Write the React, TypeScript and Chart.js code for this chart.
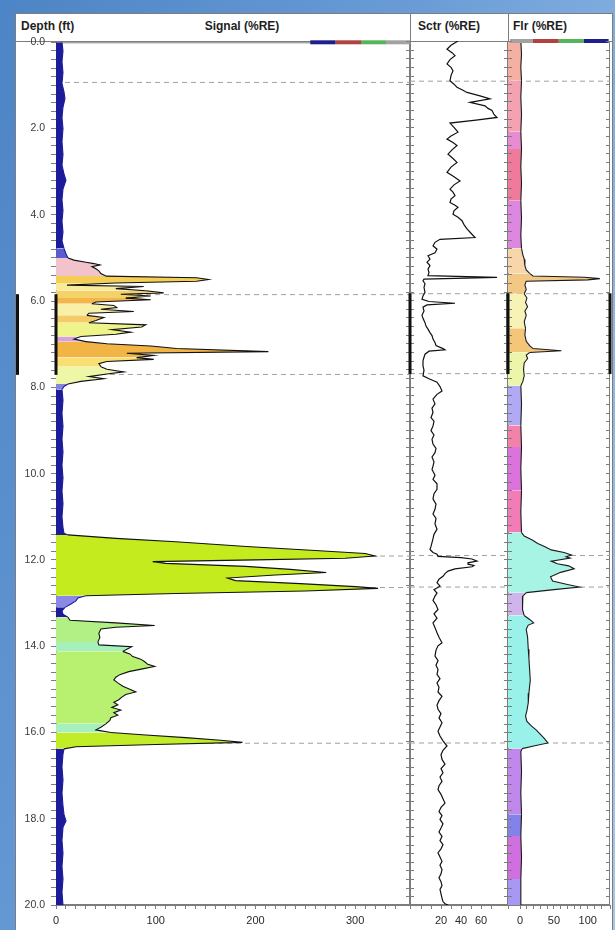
import React, { useEffect, useRef } from 'react';
import { Chart, registerables } from 'chart.js';

Chart.register(...registerables);

const FONT = '"Liberation Sans", Arial, Helvetica, sans-serif';
const FRAME = '#7d7d7d';
const TEXT = '#2a2a2a';
Chart.defaults.font.family = FONT;

// ---------------- depth axis ----------------
const depthMin = 0;
const depthMax = 20;
const depthStep = 0.2;
const depthLabelEvery = 2;

// marker (dashed) depths and highlighted zone
const markerDepths = [0.93, 5.85, 7.7, 11.91, 12.64, 16.25];
const zoneTops = [5.84];
const zoneBottoms = [7.71];

// ---------------- Signal (%RE) ----------------
const signalDepth = [
  0.00, 0.20, 0.45, 0.70, 0.95, 1.15, 1.30, 1.50, 1.75, 2.00,
  2.30, 2.60, 2.85, 3.05, 3.20, 3.40, 3.65, 3.90, 4.15, 4.40,
  4.60, 4.78, 4.90, 5.00, 5.05, 5.10, 5.13, 5.16, 5.20, 5.25,
  5.30, 5.36, 5.42, 5.46, 5.50, 5.54, 5.58, 5.63, 5.66, 5.71,
  5.76, 5.81, 5.84, 5.88, 5.93, 5.97, 6.02, 6.06, 6.10, 6.15,
  6.19, 6.24, 6.28, 6.33, 6.38, 6.45, 6.50, 6.55, 6.60, 6.66,
  6.72, 6.77, 6.82, 6.88, 6.94, 6.99, 7.04, 7.10, 7.17, 7.21,
  7.26, 7.31, 7.35, 7.40, 7.45, 7.52, 7.58, 7.64, 7.69, 7.75,
  7.80, 7.86, 7.92, 7.98, 8.05, 8.30, 8.60, 8.90, 9.20, 9.50,
  9.80, 10.10, 10.40, 10.70, 11.00, 11.25, 11.38, 11.42, 11.50, 11.58,
  11.69, 11.78, 11.85, 11.91, 11.96, 12.00, 12.04, 12.08, 12.15, 12.22,
  12.29, 12.35, 12.42, 12.48, 12.55, 12.62, 12.66, 12.72, 12.78, 12.83,
  12.88, 12.95, 13.02, 13.10, 13.18, 13.26, 13.33, 13.40, 13.46, 13.52,
  13.56, 13.60, 13.70, 13.80, 13.90, 13.97, 14.01, 14.06, 14.12, 14.18,
  14.24, 14.30, 14.36, 14.42, 14.47, 14.52, 14.59, 14.66, 14.72, 14.78,
  14.85, 14.93, 15.00, 15.06, 15.12, 15.18, 15.24, 15.30, 15.36, 15.42,
  15.48, 15.54, 15.60, 15.66, 15.72, 15.80, 15.88, 15.94, 16.00, 16.06,
  16.12, 16.18, 16.23, 16.28, 16.33, 16.38, 16.50, 16.80, 17.10, 17.40,
  17.70, 17.90, 18.05, 18.20, 18.50, 18.80, 19.10, 19.40, 19.70, 20.00,
];
const signalValue = [
  6, 7, 6, 7, 6, 8, 9, 7, 6, 7,
  6, 7, 6, 8, 10, 7, 6, 7, 6, 7,
  6, 8, 10, 12, 18, 30, 38, 44, 36, 40,
  43, 45, 50, 141, 153, 141, 60, 11, 88, 60,
  90, 108, 65, 95, 70, 95, 40, 36, 58, 61,
  45, 78, 33, 31, 48, 40, 33, 90, 86, 56,
  75, 60, 25, 18, 30, 51, 95, 121, 213, 71,
  98, 81, 98, 51, 43, 45, 51, 68, 51, 33,
  48, 25, 12, 8, 6, 7, 6, 7, 6, 7,
  6, 7, 6, 7, 6, 7, 8, 12, 60, 120,
  191, 260, 310, 320, 290, 200, 97, 110, 190, 235,
  271, 220, 172, 180, 245, 300, 323, 250, 120, 30,
  22, 20, 15, 9, 6, 7, 12, 14, 60, 99,
  60, 45, 43, 44, 42, 43, 76, 72, 67, 74,
  77, 85, 89, 92, 99, 88, 73, 64, 60, 58,
  62, 67, 74, 80, 70, 66, 63, 58, 62, 56,
  65, 58, 62, 55, 54, 50, 45, 40, 55, 90,
  130, 165, 187, 100, 20, 8, 7, 6, 7, 6,
  7, 8, 10, 7, 6, 7, 6, 7, 6, 7,
];
const signalZoneTop = [
  0, 4.78, 5.0, 5.4, 5.58, 5.74, 5.9, 6.04, 6.3, 6.5, 6.78, 6.92, 7.3, 7.5,
  7.92, 8.05, 11.42, 12.83, 13.1, 13.33, 13.85, 14.1, 15.75, 16.0, 16.38,
];
const signalZoneColor = [
  '#1c1c9a', '#5c5cd2', '#f3c3cc', '#f5cf55', '#f8ea98', '#f5d268', '#f2b64a',
  '#f8f0a6', '#f5cb68', '#eef38a', '#d6a4d4', '#f2b445', '#f7df72', '#eef7a8',
  '#8585de', '#1c1c9a', '#c4eb1e', '#8a8ae6', '#1c1c9a', '#b2ef84', '#a6f0bc',
  '#b8f070', '#a6f0c0', '#c0ec28', '#1c1c9a',
];
const signalQuietColors = ['#1c1c9a', '#5c5cd2', '#8a8ae6', '#8585de'];
const signalLegendStops = [255, 280, 306, 331, 355];
const signalLegendColors = ['#1f1f8c', '#b24242', '#58b45a', '#a2a2a2'];

// ---------------- Sctr (%RE) ----------------
const sctrDepth = [
  0.00, 0.10, 0.19, 0.27, 0.34, 0.43, 0.53, 0.61, 0.69, 0.80,
  0.92, 1.00, 1.07, 1.13, 1.19, 1.27, 1.34, 1.42, 1.50, 1.56,
  1.61, 1.70, 1.77, 1.83, 1.90, 2.00, 2.11, 2.20, 2.27, 2.35,
  2.42, 2.52, 2.62, 2.72, 2.81, 2.92, 3.04, 3.14, 3.24, 3.33,
  3.43, 3.50, 3.58, 3.66, 3.74, 3.80, 3.85, 3.93, 4.01, 4.08,
  4.16, 4.25, 4.35, 4.45, 4.55, 4.59, 4.66, 4.74, 4.82, 4.90,
  4.97, 5.05, 5.12, 5.20, 5.28, 5.36, 5.43, 5.47, 5.51, 5.55,
  5.62, 5.70, 5.82, 5.90, 5.98, 6.03, 6.07, 6.11, 6.16, 6.25,
  6.35, 6.42, 6.52, 6.60, 6.67, 6.75, 6.82, 6.90, 6.98, 7.05,
  7.12, 7.15, 7.18, 7.25, 7.32, 7.40, 7.52, 7.62, 7.75, 7.82,
  7.90, 8.00, 8.10, 8.18, 8.29, 8.40, 8.50, 8.60, 8.72, 8.80,
  8.91, 9.02, 9.12, 9.22, 9.33, 9.43, 9.53, 9.63, 9.74, 9.84,
  9.92, 10.05, 10.15, 10.25, 10.38, 10.48, 10.60, 10.72, 10.84, 10.95,
  11.05, 11.18, 11.30, 11.42, 11.52, 11.61, 11.70, 11.77, 11.84, 11.88,
  11.93, 11.96, 11.99, 12.04, 12.08, 12.11, 12.14, 12.17, 12.22, 12.27,
  12.33, 12.39, 12.46, 12.54, 12.62, 12.70, 12.78, 12.85, 12.95, 13.05,
  13.16, 13.26, 13.36, 13.47, 13.58, 13.70, 13.80, 13.93, 14.00, 14.10,
  14.24, 14.34, 14.45, 14.55, 14.66, 14.76, 14.86, 14.96, 15.07, 15.17,
  15.27, 15.37, 15.47, 15.57, 15.67, 15.78, 15.88, 15.98, 16.09, 16.20,
  16.32, 16.42, 16.52, 16.63, 16.74, 16.84, 16.94, 17.04, 17.14, 17.24,
  17.33, 17.44, 17.54, 17.64, 17.74, 17.84, 17.93, 18.02, 18.12, 18.22,
  18.31, 18.41, 18.51, 18.60, 18.70, 18.79, 18.89, 18.99, 19.08, 19.18,
  19.28, 19.37, 19.46, 19.55, 19.64, 19.74, 19.84, 19.92, 19.97, 20.00,
];
const sctrValue = [
  37, 30, 26, 31, 34, 29, 26, 30, 32, 30,
  29, 33, 36, 41, 46, 59, 69, 49, 64, 67,
  71, 73, 76, 55, 29, 33, 37, 30, 26, 32,
  36, 31, 27, 32, 36, 30, 26, 33, 39, 33,
  29, 32, 34, 30, 29, 34, 37, 33, 32, 37,
  41, 43, 46, 50, 54, 19, 14, 12, 16, 14,
  7, 9, 6, 9, 7, 8, 7, 76, 3, 2,
  4, 3, 4, 2, 1, 8, 34, 6, 2, 3,
  1, 2, 4, 5, 7, 9, 11, 12, 14, 15,
  22, 24, 8, 4, 3, 2, 2, 3, 2, 8,
  16, 19, 21, 16, 12, 14, 11, 12, 10, 13,
  12, 10, 13, 11, 12, 15, 14, 11, 13, 12,
  11, 14, 12, 16, 16, 13, 12, 15, 14, 12,
  15, 14, 16, 13, 12, 11, 10, 9, 12, 16,
  17, 40, 51, 56, 47, 47, 53, 51, 34, 27,
  24, 22, 18, 16, 19, 13, 16, 14, 12, 15,
  17, 13, 16, 12, 14, 16, 18, 21, 17, 15,
  14, 17, 15, 17, 16, 19, 16, 18, 17, 21,
  18, 16, 17, 20, 18, 21, 19, 17, 19, 22,
  26, 22, 20, 21, 24, 20, 22, 19, 21, 18,
  17, 20, 22, 24, 20, 18, 21, 19, 22, 20,
  18, 21, 19, 22, 20, 17, 19, 21, 19, 21,
  20, 18, 20, 21, 19, 20, 21, 22, 24, 27,
];

// ---------------- Flr (%RE) ----------------
const flrDepth = [
  0.00, 0.30, 0.60, 0.92, 1.30, 1.70, 2.10, 2.50, 2.90, 3.30,
  3.70, 4.10, 4.50, 4.80, 4.95, 5.05, 5.20, 5.30, 5.38, 5.44,
  5.47, 5.50, 5.53, 5.56, 5.65, 5.75, 5.85, 5.95, 6.05, 6.15,
  6.25, 6.35, 6.50, 6.65, 6.80, 6.95, 7.05, 7.12, 7.17, 7.21,
  7.27, 7.35, 7.45, 7.60, 7.75, 7.88, 7.98, 8.40, 8.90, 9.40,
  9.90, 10.40, 10.90, 11.38, 11.46, 11.55, 11.63, 11.70, 11.78, 11.84,
  11.90, 11.94, 11.97, 12.04, 12.10, 12.15, 12.22, 12.30, 12.40, 12.50,
  12.58, 12.64, 12.70, 12.77, 12.85, 13.00, 13.16, 13.30, 13.39, 13.47,
  13.52, 13.62, 13.80, 14.08, 14.30, 14.55, 14.80, 14.93, 15.10, 15.32,
  15.50, 15.63, 15.75, 15.86, 15.95, 16.05, 16.15, 16.25, 16.32, 16.38,
  16.45, 16.90, 17.40, 17.90, 18.40, 18.90, 19.40, 20.00,
];
const flrValue = [
  1, 2, 1, 2, 1, 2, 1, 2, 1, 2,
  1, 2, 1, 2, 4, 6, 7, 9, 14, 19,
  95, 118, 100, 9, 7, 9, 6, 10, 8, 11,
  7, 9, 6, 8, 7, 9, 14, 19, 61, 14,
  9, 11, 6, 5, 6, 4, 1, 2, 1, 2,
  1, 2, 1, 2, 6, 18, 26, 36, 46, 65,
  76, 68, 74, 46, 55, 72, 80, 60, 45, 48,
  70, 88, 50, 9, 4, 3, 4, 6, 14, 20,
  12, 9, 11, 12, 13, 14, 15, 14, 13, 12,
  10, 8, 10, 17, 24, 30, 36, 41, 20, 3,
  1, 2, 1, 2, 1, 2, 1, 1,
];
const flrZoneTop = [
  0, 0.9, 1.9, 2.5, 3.7, 4.75, 5.38, 5.8, 6.65, 7.2, 7.95, 8.65, 9.0, 10.2,
  11.38, 12.77, 13.3, 16.38, 17.7, 18.1, 19.2,
];
const flrZoneColor = [
  '#f4b0a2', '#f4a2b2', '#e88cd2', '#f07a9c', '#dc88e0', '#f7d6ac', '#f3c884',
  '#f7f2b6', '#f3c67a', '#ecf5aa', '#b0aaf4', '#f282aa', '#dc72dc', '#f27cb8',
  '#a8f4e4', '#d0b4ec', '#98f2ea', '#c088ec', '#8282e8', '#d070e0', '#a898f4',
];
const flrLegendStops = [-15, 19, 57, 94, 131];
const flrLegendColors = ['#a2a2a2', '#b24242', '#58b45a', '#1f1f8c'];

// ---------------- helpers ----------------
function zoneColor(tops: number[], colors: string[], d: number): string {
  let c = colors[0];
  for (let i = 0; i < tops.length; i++) {
    if (d >= tops[i] - 1e-9) c = colors[i];
  }
  return c;
}
const toPoints = (depths: number[], values: number[]) =>
  depths.map((d, i) => ({ x: values[i], y: d }));

type TrackSpec = {
  xMin: number;
  xMax: number;
  xStep: number;
  xLabels: number[];
  padLeft: number;
  padRight: number;
  depthAxis: boolean;
  curve: any;
  legendStops?: number[];
  legendColors?: string[];
  tickLeft?: [number, number];
  tickRight?: [number, number];
  zoneEdges: string[];
};

function trackPlugin(spec: TrackSpec) {
  return {
    id: 'trackDecor',
    beforeDatasetsDraw(chart: any) {
      const { ctx, chartArea: a } = chart;
      ctx.save();
      ctx.strokeStyle = FRAME;
      ctx.lineWidth = 1;
      ctx.strokeRect(a.left + 0.5, a.top + 0.5, a.right - a.left - 1, a.bottom - a.top - 1);
      ctx.restore();
    },
    afterDatasetsDraw(chart: any) {
      const { ctx, chartArea: a } = chart;
      const y = chart.scales.y;
      ctx.save();
      ctx.strokeStyle = FRAME;
      ctx.lineWidth = 1;
      ctx.beginPath();
      for (let d = depthMin; d <= depthMax + 1e-6; d += depthStep) {
        const py = Math.round(y.getPixelForValue(d)) + 0.5;
        if (spec.tickLeft) {
          ctx.moveTo(a.left - spec.tickLeft[0], py);
          ctx.lineTo(a.left + spec.tickLeft[1], py);
        }
        if (spec.tickRight) {
          ctx.moveTo(a.right - spec.tickRight[0], py);
          ctx.lineTo(a.right + spec.tickRight[1], py);
        }
      }
      ctx.stroke();
      ctx.fillStyle = '#101010';
      zoneTops.forEach((zt, i) => {
        const t = y.getPixelForValue(zt);
        const b = y.getPixelForValue(zoneBottoms[i]);
        for (const e of spec.zoneEdges) {
          const x = e === 'left' ? a.left : e === 'right' ? a.right : 2.5;
          ctx.fillRect(x - 1.5, t, 3, b - t);
        }
      });
      ctx.restore();
    },
  };
}

function buildConfig(spec: TrackSpec): any {
  const datasets: any[] = [];
  markerDepths.forEach((d) =>
    datasets.push({
      data: [{ x: spec.xMin, y: d }, { x: spec.xMax, y: d }],
      borderColor: '#a0a0a0',
      borderWidth: 1,
      borderDash: [5, 4],
      pointRadius: 0,
      fill: false,
      order: 5,
    })
  );
  datasets.push(spec.curve);
  if (spec.legendStops && spec.legendColors) {
    for (let i = 0; i < spec.legendColors.length; i++) {
      datasets.push({
        data: [
          { x: spec.legendStops[i], y: depthMin },
          { x: spec.legendStops[i + 1], y: depthMin },
        ],
        borderColor: spec.legendColors[i],
        borderWidth: 4,
        borderCapStyle: 'butt',
        pointRadius: 0,
        fill: false,
        clip: false,
        order: 0,
      });
    }
  }
  return {
    type: 'line',
    data: { datasets },
    options: {
      animation: false,
      responsive: false,
      maintainAspectRatio: false,
      indexAxis: 'y',
      events: [],
      layout: { padding: { top: 11, bottom: 0, left: spec.padLeft, right: spec.padRight } },
      plugins: { legend: { display: false }, tooltip: { enabled: false } },
      elements: { point: { radius: 0 }, line: { tension: 0 } },
      scales: {
        x: {
          type: 'linear',
          position: 'bottom',
          min: spec.xMin,
          max: spec.xMax,
          ticks: {
            stepSize: spec.xStep,
            autoSkip: false,
            maxRotation: 0,
            padding: 5,
            color: TEXT,
            font: { family: FONT, size: 11 },
            callback: (v: any) => (spec.xLabels.includes(Number(v)) ? String(v) : ''),
          },
          grid: { drawOnChartArea: false, drawTicks: true, tickLength: 4, color: FRAME },
          border: { display: true, color: FRAME },
          afterFit: (s: any) => {
            s.height = 25;
          },
        },
        y: {
          type: 'linear',
          position: 'left',
          reverse: true,
          min: depthMin,
          max: depthMax,
          display: spec.depthAxis,
          ticks: {
            stepSize: depthStep,
            autoSkip: false,
            padding: 6,
            color: '#3a3a3a',
            font: { family: FONT, size: 10.5 },
            callback: (v: any) => {
              const n = Number(v);
              const r = n / depthLabelEvery;
              return Math.abs(r - Math.round(r)) < 1e-6 ? n.toFixed(1) : '';
            },
          },
          grid: { drawOnChartArea: false, drawTicks: true, tickLength: 5, color: FRAME },
          border: { display: true, color: FRAME },
          afterFit: (s: any) => {
            s.width = spec.depthAxis ? 41 : 0;
          },
        },
      },
    },
    plugins: [trackPlugin(spec)],
  };
}

function signalSpec(): TrackSpec {
  return {
    xMin: 0,
    xMax: 355,
    xStep: 10,
    xLabels: [0, 100, 200, 300],
    padLeft: 0,
    padRight: 5,
    depthAxis: true,
    zoneEdges: ['outer', 'left'],
    legendStops: signalLegendStops,
    legendColors: signalLegendColors,
    curve: {
      data: toPoints(signalDepth, signalValue),
      borderColor: '#111',
      borderWidth: 1.1,
      backgroundColor: signalZoneColor[0],
      fill: { value: 0 },
      pointRadius: 0,
      order: 1,
      segment: {
        backgroundColor: (c: any) =>
          zoneColor(signalZoneTop, signalZoneColor, signalDepth[c.p0DataIndex]),
        borderColor: (c: any) => {
          const col = zoneColor(signalZoneTop, signalZoneColor, signalDepth[c.p0DataIndex]);
          return signalQuietColors.includes(col) ? '#1c1c9a' : '#111';
        },
      },
    },
  };
}

function sctrSpec(): TrackSpec {
  return {
    xMin: -11,
    xMax: 87,
    xStep: 10,
    xLabels: [20, 40, 60],
    padLeft: 5,
    padRight: 5,
    depthAxis: false,
    tickLeft: [4, 4],
    tickRight: [4, 4],
    zoneEdges: ['left', 'right'],
    curve: {
      data: toPoints(sctrDepth, sctrValue),
      borderColor: '#111',
      borderWidth: 1.2,
      fill: false,
      pointRadius: 0,
      order: 1,
    },
  };
}

function flrSpec(): TrackSpec {
  return {
    xMin: -18,
    xMax: 133,
    xStep: 10,
    xLabels: [0, 50, 100],
    padLeft: 5,
    padRight: 5,
    depthAxis: false,
    tickLeft: [4, 4],
    tickRight: [4, 0],
    zoneEdges: ['left', 'right'],
    legendStops: flrLegendStops,
    legendColors: flrLegendColors,
    curve: {
      data: toPoints(flrDepth, flrValue),
      borderColor: '#1a1a1a',
      borderWidth: 1.1,
      backgroundColor: flrZoneColor[0],
      fill: { value: -18 },
      pointRadius: 0,
      order: 1,
      segment: {
        backgroundColor: (c: any) =>
          zoneColor(flrZoneTop, flrZoneColor, flrDepth[c.p0DataIndex]),
      },
    },
  };
}

const titleStyle: React.CSSProperties = {
  position: 'absolute',
  top: 13,
  height: 28,
  lineHeight: '26px',
  fontSize: 12,
  fontWeight: 'bold',
  color: '#1e1e1e',
  whiteSpace: 'nowrap',
  fontFamily: FONT,
};

export default function App() {
  const sigRef = useRef<HTMLCanvasElement>(null);
  const sctrRef = useRef<HTMLCanvasElement>(null);
  const flrRef = useRef<HTMLCanvasElement>(null);

  useEffect(() => {
    const charts = [
      new Chart(sigRef.current as HTMLCanvasElement, buildConfig(signalSpec())),
      new Chart(sctrRef.current as HTMLCanvasElement, buildConfig(sctrSpec())),
      new Chart(flrRef.current as HTMLCanvasElement, buildConfig(flrSpec())),
    ];
    return () => charts.forEach((c) => c.destroy());
  }, []);

  return (
    <div
      style={{
        position: 'fixed',
        left: 0,
        top: 0,
        width: 615,
        height: 930,
        overflow: 'hidden',
        background: 'linear-gradient(110deg, #4d84c5 0%, #6a9dd7 45%, #a6c6ec 100%)',
      }}
    >
      <div
        style={{
          position: 'absolute',
          left: 15,
          top: 13,
          width: 598,
          height: 917,
          background: '#fff',
          borderLeft: `1px solid ${FRAME}`,
          borderTop: `1px solid ${FRAME}`,
          borderRight: `1px solid ${FRAME}`,
          boxSizing: 'border-box',
        }}
      />
      <div style={{ position: 'absolute', left: 15, top: 41, width: 597, height: 1, background: FRAME }} />
      <div style={{ position: 'absolute', left: 410, top: 13, width: 1, height: 28, background: FRAME }} />
      <div style={{ position: 'absolute', left: 508, top: 13, width: 1, height: 28, background: FRAME }} />
      <div style={{ ...titleStyle, left: 21 }}>Depth (ft)</div>
      <div style={{ ...titleStyle, left: 142, width: 200, textAlign: 'center' }}>Signal (%RE)</div>
      <div style={{ ...titleStyle, left: 418 }}>Sctr (%RE)</div>
      <div style={{ ...titleStyle, left: 513 }}>Flr (%RE)</div>
      <canvas
        ref={sigRef}
        width={400}
        height={900}
        style={{ position: 'absolute', left: 15, top: 30, width: 400, height: 900 }}
      />
      <canvas
        ref={sctrRef}
        width={108}
        height={900}
        style={{ position: 'absolute', left: 405, top: 30, width: 108, height: 900 }}
      />
      <canvas
        ref={flrRef}
        width={112}
        height={900}
        style={{ position: 'absolute', left: 503, top: 30, width: 112, height: 900 }}
      />
    </div>
  );
}
